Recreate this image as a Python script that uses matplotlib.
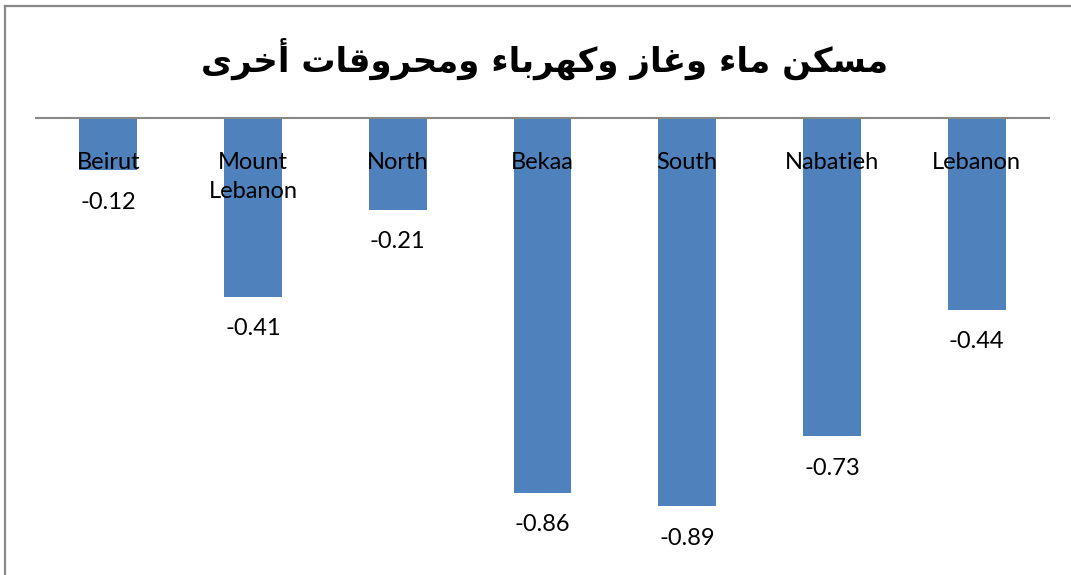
import matplotlib
matplotlib.use("Agg")
import matplotlib.pyplot as plt
from matplotlib.lines import Line2D

# ---- data ----
categories = ["Beirut", "Mount\nLebanon", "North", "Bekaa", "South", "Nabatieh", "Lebanon"]
values = [-0.12, -0.41, -0.21, -0.86, -0.89, -0.73, -0.44]
value_labels = ["-0.12", "-0.41", "-0.21", "-0.86", "-0.89", "-0.73", "-0.44"]
title_text = "مسكن ماء وغاز وكهرباء ومحروقات أخرى"

# ---- minimal Arabic shaping (presentation forms) for matplotlib ----
FORMS = {
    "\u0621": ("\uFE80", None, None, None),
    "\u0623": ("\uFE83", "\uFE84", None, None),
    "\u0627": ("\uFE8D", "\uFE8E", None, None),
    "\u0628": ("\uFE8F", "\uFE90", "\uFE91", "\uFE92"),
    "\u062A": ("\uFE95", "\uFE96", "\uFE97", "\uFE98"),
    "\u062D": ("\uFEA1", "\uFEA2", "\uFEA3", "\uFEA4"),
    "\u062E": ("\uFEA5", "\uFEA6", "\uFEA7", "\uFEA8"),
    "\u0631": ("\uFEAD", "\uFEAE", None, None),
    "\u0632": ("\uFEAF", "\uFEB0", None, None),
    "\u0633": ("\uFEB1", "\uFEB2", "\uFEB3", "\uFEB4"),
    "\u063A": ("\uFECD", "\uFECE", "\uFECF", "\uFED0"),
    "\u0642": ("\uFED5", "\uFED6", "\uFED7", "\uFED8"),
    "\u0643": ("\uFED9", "\uFEDA", "\uFEDB", "\uFEDC"),
    "\u0645": ("\uFEE1", "\uFEE2", "\uFEE3", "\uFEE4"),
    "\u0646": ("\uFEE5", "\uFEE6", "\uFEE7", "\uFEE8"),
    "\u0647": ("\uFEE9", "\uFEEA", "\uFEEB", "\uFEEC"),
    "\u0648": ("\uFEED", "\uFEEE", None, None),
    "\u0649": ("\uFEEF", "\uFEF0", None, None),
}


def joins(c):
    return c in FORMS and FORMS[c][1] is not None


def dual(c):
    return c in FORMS and FORMS[c][2] is not None


def shape(text):
    out = []
    for i, c in enumerate(text):
        if c not in FORMS:
            out.append(c)
            continue
        prev = text[i - 1] if i > 0 else ""
        nxt = text[i + 1] if i + 1 < len(text) else ""
        cp = joins(c) and dual(prev)
        cn = dual(c) and joins(nxt)
        iso, fin, ini, med = FORMS[c]
        if cp and cn:
            out.append(med)
        elif cp:
            out.append(fin)
        elif cn:
            out.append(ini)
        else:
            out.append(iso)
    return "".join(reversed(out))


W, H = 1071, 575
fig = plt.figure(figsize=(W / 100, H / 100), dpi=100)
fig.patch.set_facecolor("white")

ax = fig.add_axes([36 / W, 1 - 554 / H, (1049 - 36) / W, (554 - 118) / H])
x = list(range(len(categories)))
ax.bar(x, values, width=0.4, color="#4F81BD", zorder=2)
ax.set_xlim(-0.5, len(categories) - 0.5)
ax.set_ylim(-1.0, 0.0)
for s in ["left", "right", "bottom"]:
    ax.spines[s].set_visible(False)
ax.spines["top"].set_color("#888888")
ax.spines["top"].set_linewidth(1.5)
ax.spines["top"].set_zorder(3)
ax.set_xticks([])
ax.set_yticks([])
ax.patch.set_alpha(0)

font = ["Lato", "DejaVu Sans"]
for xi, cat in zip(x, categories):
    ax.annotate(cat, xy=(xi, 0), xytext=(0, -34), textcoords="offset pixels",
                ha="center", va="top", fontsize=17, family=font,
                color="black", linespacing=1.5, zorder=4)
for xi, v, lab in zip(x, values, value_labels):
    ax.annotate(lab, xy=(xi, v), xytext=(0, -32), textcoords="offset pixels",
                ha="center", va="center", fontsize=17, family=font,
                color="black", zorder=4)

fig.text(545 / W, 1 - 59 / H, shape(title_text), ha="center", va="center",
         fontsize=24.5, fontweight="bold", family=["DejaVu Sans"], color="black")

# outer chart border (top and left visible)
fig.add_artist(Line2D([5 / W, 1.0], [1 - 6 / H, 1 - 6 / H], color="#888888", lw=1.6))
fig.add_artist(Line2D([5 / W, 5 / W], [1 - 6 / H, 0.0], color="#888888", lw=1.6))

fig.savefig("out.png", dpi=100)
